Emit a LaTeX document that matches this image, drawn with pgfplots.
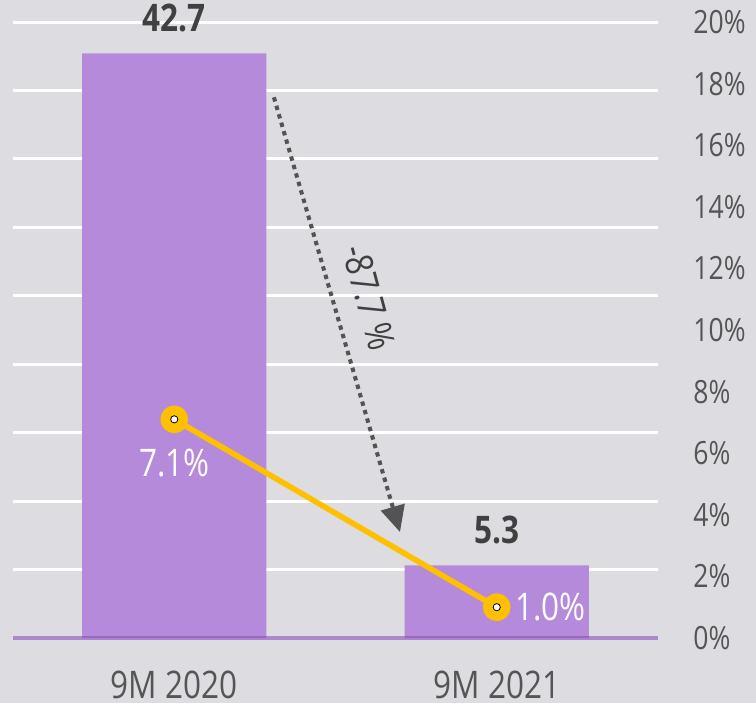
\documentclass[border=0pt]{standalone}
\usepackage{fontspec}
\setmainfont{Open Sans}[FakeStretch=0.83]
\usepackage{pgfplots}
\pgfplotsset{compat=1.18}
\usetikzlibrary{arrows.meta,backgrounds}

\definecolor{bg}{HTML}{DDDCE0}
\definecolor{barc}{HTML}{B68ADB}
\definecolor{linec}{HTML}{FFC000}
\definecolor{txt}{HTML}{404040}
\definecolor{tickc}{HTML}{555555}
\definecolor{base}{HTML}{8A4FC0}

\newcommand{\lbl}{\fontsize{19}{22}\selectfont}

\begin{document}
\begin{tikzpicture}
\pgfplotsset{
  common/.style={
    scale only axis, width=322.5pt, height=308pt,
    xmin=-0.5, xmax=1.5, at={(0,0)}, anchor=south west,
    clip=false,
    /pgf/number format/assume math mode=true,
  }
}
% bars (left, hidden scale 0-45)
\begin{axis}[common, name=ax,
  ymin=0, ymax=45,
  ytick={5,10,...,45}, yticklabels={},
  ymajorgrids, grid style={white, line width=1.5pt},
  axis line style={draw=none}, major tick length=0pt,
  xtick={0,1}, xticklabels={9M 2020, 9M 2021},
  xticklabel style={anchor=north, inner sep=0pt, yshift=-16.5pt, text=tickc, font=\lbl},
  ybar, bar width=92pt,
  nodes near coords,
  nodes near coords style={anchor=south, inner sep=0pt, yshift=10.5pt, text=txt,
    font=\bfseries\lbl, /pgf/number format/fixed, /pgf/number format/precision=1,
    /pgf/number format/fixed zerofill},
]
\addplot[fill=barc, draw=none] coordinates {(0,42.7) (1,5.3)};
\draw[base, opacity=0.6, line width=1.8pt] (axis cs:-0.5,0) -- (axis cs:1.5,0);
\draw[txt!90, line width=2pt, dash pattern=on 2.2pt off 2.2pt,
  -{Triangle[length=13pt,width=12pt]}] (axis cs:0.309,39.5) -- (axis cs:0.70,7.74);
\node[rotate=-75, text=txt, font=\lbl] at (axis cs:0.604,24.84) {-87.7 \%};
\end{axis}

% margin line (right axis 0-20 %)
\begin{axis}[common,
  ymin=0, ymax=20,
  axis x line=none, axis y line*=right,
  y axis line style={draw=none}, major tick length=0pt,
  ytick={0,2,...,20},
  yticklabels={0\%,2\%,4\%,6\%,8\%,10\%,12\%,14\%,16\%,18\%,20\%},
  yticklabel style={anchor=west, inner sep=0pt, xshift=17.5pt, text=tickc,
    font=\fontsize{16}{19}\selectfont},
]
\addplot[linec, line width=2.8pt, mark=*, mark size=5.5pt,
  mark options={fill=linec, draw=none}] coordinates {(0,7.1) (1,1.0)};
\addplot[only marks, mark=*, mark size=1.8pt,
  mark options={fill=white, draw=none}] coordinates {(0,7.1) (1,1.0)};
\node[text=white, font=\lbl, yshift=-22pt] at (axis cs:0,7.1) {7.1\%};
\node[text=white, font=\lbl, anchor=west, inner sep=0pt, xshift=9pt] at (axis cs:1,1.0) {1.0\%};
\end{axis}

\begin{scope}[on background layer, shift={(ax.south west)}]
\fill[bg] (-6.5pt,-32.5pt) rectangle (371.5pt,319pt);
\end{scope}
\pgfresetboundingbox
\path[use as bounding box, shift={(ax.south west)}] (-6.5pt,-32.5pt) rectangle (371.5pt,319pt);
\end{tikzpicture}
\end{document}
